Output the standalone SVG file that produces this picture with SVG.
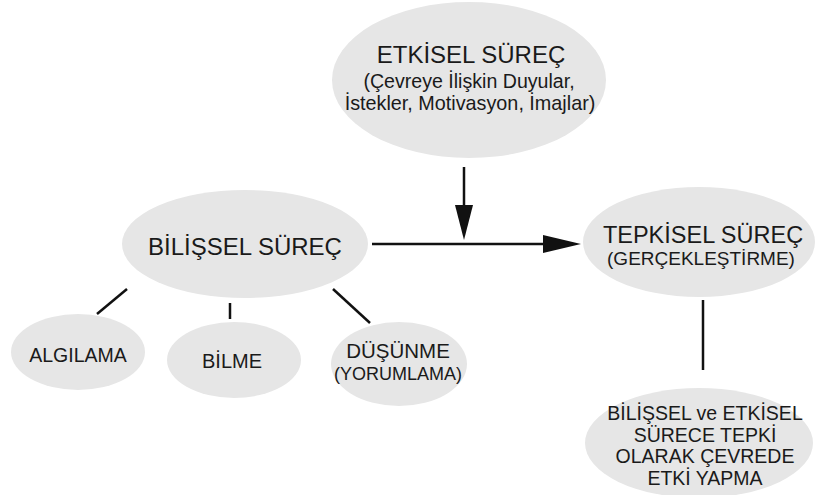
<svg xmlns="http://www.w3.org/2000/svg" width="815" height="495" viewBox="0 0 815 495">
<style>
.n{fill:#e6e6e6;stroke:none}
.t{font-family:"Liberation Sans",Arial,sans-serif;fill:#1a1a1a;text-anchor:middle}
.c{stroke:#111;stroke-width:2.5;fill:none}
.h{fill:#111;stroke:none}
</style>
<rect width="815" height="495" fill="#fff"/>
<g id="connectors">
<line class="c" x1="464" y1="167" x2="464" y2="210"/>
<polygon class="h" points="455,205 473,205 464,240"/>
<line class="c" x1="372" y1="244" x2="548" y2="244"/>
<polygon class="h" points="543,235 543,253 581,244"/>
<line class="c" x1="127" y1="289" x2="97" y2="314"/>
<line class="c" x1="230" y1="303" x2="230" y2="319"/>
<line class="c" x1="333" y1="289" x2="370" y2="323"/>
<line class="c" x1="703" y1="300" x2="703" y2="370"/>
</g>
<g id="etkisel">
<ellipse class="n" cx="469" cy="80" rx="137" ry="78"/>
<text class="t" x="471" y="63" font-size="24">ETKİSEL SÜREÇ</text>
<text class="t" x="469" y="88" font-size="19.6">(Çevreye İlişkin Duyular,</text>
<text class="t" x="470" y="110" font-size="19.8">İstekler, Motivasyon, İmajlar)</text>
</g>
<g id="bilissel">
<ellipse class="n" cx="245" cy="244" rx="123" ry="54"/>
<text class="t" x="245" y="255" font-size="24">BİLİŞSEL SÜREÇ</text>
</g>
<g id="tepkisel">
<ellipse class="n" cx="699" cy="242" rx="116" ry="55"/>
<text class="t" x="703" y="243" font-size="23.5">TEPKİSEL SÜREÇ</text>
<text class="t" x="701" y="265" font-size="19">(GERÇEKLEŞTİRME)</text>
</g>
<g id="algilama">
<ellipse class="n" cx="78" cy="352" rx="67" ry="38"/>
<text class="t" x="78" y="362" font-size="19.5">ALGILAMA</text>
</g>
<g id="bilme">
<ellipse class="n" cx="234" cy="360" rx="67" ry="38"/>
<text class="t" x="232" y="368" font-size="20">BİLME</text>
</g>
<g id="dusunme">
<ellipse class="n" cx="399" cy="364" rx="68" ry="42"/>
<text class="t" x="398" y="358" font-size="20.5">DÜŞÜNME</text>
<text class="t" x="398" y="380" font-size="18">(YORUMLAMA)</text>
</g>
<g id="sonuc">
<ellipse class="n" cx="699" cy="443" rx="114" ry="55"/>
<text class="t" x="705" y="420" font-size="19.5">BİLİŞSEL ve ETKİSEL</text>
<text class="t" x="705" y="442" font-size="19.5">SÜRECE TEPKİ</text>
<text class="t" x="705" y="463" font-size="19.5">OLARAK ÇEVREDE</text>
<text class="t" x="705" y="485" font-size="19.5">ETKİ YAPMA</text>
</g>
</svg>
